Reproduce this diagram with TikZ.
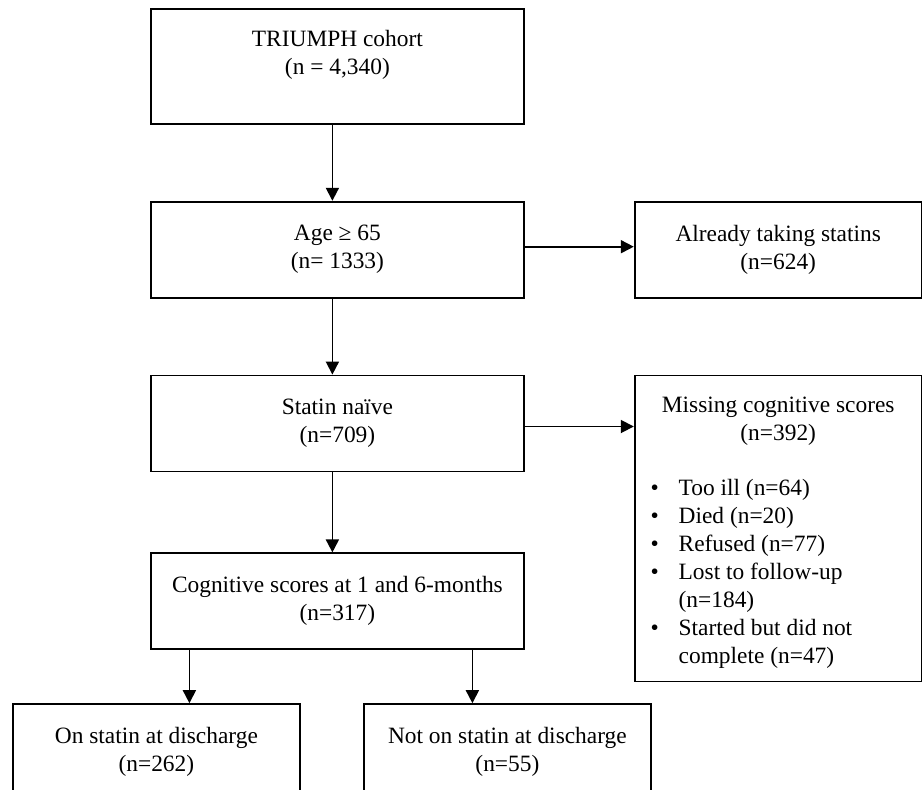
\documentclass[tikz,border=0pt]{standalone}
\usepackage{fontspec}
\setmainfont{Liberation Serif}
\usetikzlibrary{arrows.meta,positioning}
\tikzset{
  flow/.style={
    draw=black, line width=1.8pt, align=center, inner sep=4pt,
    minimum width=373pt, minimum height=96pt,
    font=\fontsize{23.4}{28}\selectfont
  },
  side/.style={flow, minimum width=287pt},
  arr/.style={-{Triangle[length=13pt,width=13pt]}, draw=black, line width=1.8pt}
}
\begin{document}
\begin{tikzpicture}[x=1pt, y=-1pt, node distance=76pt and 109pt]
  \useasboundingbox (0,0) rectangle (922,790);
  \node[flow, minimum height=115pt, anchor=north west] (cohort) at (150,8)
    {TRIUMPH cohort\\(n = 4,340)\\ };
  \node[flow, below=of cohort] (age) {Age ≥ 65\\(n= 1333)};
  \node[side, right=of age] (already) {Already taking statins\\(n=624)};
  \node[flow, below=of age] (naive) {Statin naïve\\(n=709)};
  \node[side, minimum height=306pt, inner xsep=16pt,
        below right=0pt and 109pt of naive.north east] (miss)
    {\rule{0pt}{27pt}Missing cognitive scores\\(n=392)\\[30pt]
     \begin{tabular}{@{}p{28pt}@{}p{227pt}@{}}
       \textbullet & Too ill (n=64)\\
       \textbullet & Died (n=20)\\
       \textbullet & Refused (n=77)\\
       \textbullet & Lost to follow-up\\
                   & (n=184)\\
       \textbullet & Started but did not\\
                   & complete (n=47)
     \end{tabular}};
  \node[flow, below=80pt of naive] (cog) {Cognitive scores at 1 and 6-months\\(n=317)};
  \node[side, below=53pt of cog.south west, anchor=north west, xshift=-138pt] (on)
    {On statin at discharge\\(n=262)};
  \node[side, below=53pt of cog.south west, anchor=north west, xshift=213pt] (noton)
    {Not on statin at discharge\\(n=55)};
  \draw[arr] ([xshift=-5pt]cohort.south) -- ([xshift=-5pt]age.north);
  \draw[arr] ([xshift=-5pt]age.south) -- ([xshift=-5pt]naive.north);
  \draw[arr] ([xshift=-5pt]naive.south) -- ([xshift=-5pt]cog.north);
  \draw[arr] ([yshift=3pt]age.east) -- ([yshift=3pt]age.east -| already.west);
  \draw[arr] ([yshift=-3pt]naive.east) -- ([yshift=-3pt]naive.east -| miss.west);
  \draw[arr] ([xshift=33pt]on.north |- cog.south) -- ([xshift=33pt]on.north);
  \draw[arr] ([xshift=-35pt]noton.north |- cog.south) -- ([xshift=-35pt]noton.north);
\end{tikzpicture}
\end{document}
